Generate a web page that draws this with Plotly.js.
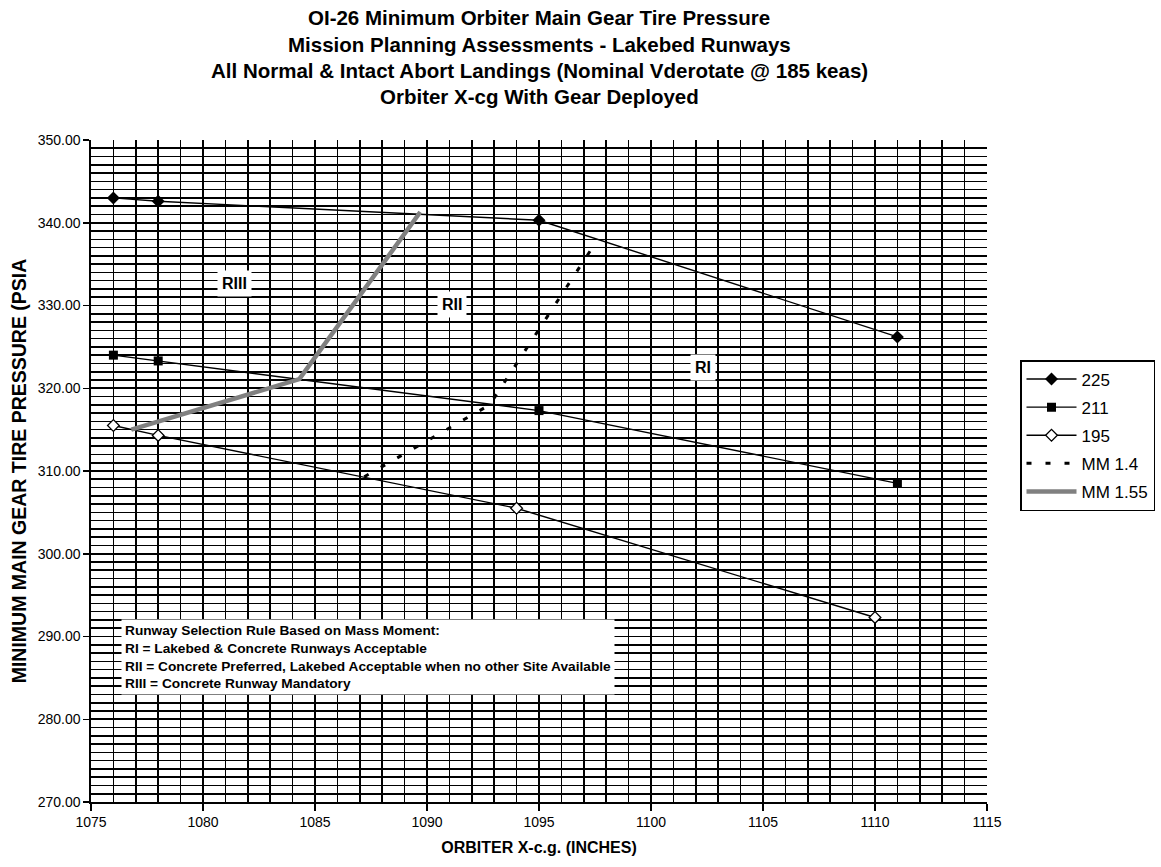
<!DOCTYPE html>
<html>
<head>
<meta charset="utf-8">
<script src="https://cdn.plot.ly/plotly-3.0.1.min.js"></script>
<style>html,body{margin:0;padding:0;background:#fff;}#chart{width:1161px;height:867px;}</style>
</head>
<body>
<div id="chart"></div>
<script>
// ---- data ----
const x225 = [1076, 1078, 1095, 1111];
const y225 = [343.0, 342.6, 340.3, 326.2];
const x211 = [1076, 1078, 1095, 1111];
const y211 = [324.0, 323.3, 317.3, 308.5];
const x195 = [1076, 1078, 1094, 1110];
const y195 = [315.5, 314.3, 305.5, 292.3];
const xMM14 = [1087.2, 1092.8, 1097.6];
const yMM14 = [309.3, 318.0, 337.9];
const xMM155 = [1076.8, 1084.3, 1089.7];
const yMM155 = [315.0, 321.1, 341.3];
const seriesNames = ["225", "211", "195", "MM 1.4", "MM 1.55"];
const regionLabels = ["RIII", "RII", "RI"];
const regionX = [1081.4, 1091.1, 1102.3];
const regionY = [332.7, 330.1, 322.5];
const ruleLines = [
  "Runway Selection Rule Based on Mass Moment:",
  "RI = Lakebed & Concrete Runways Acceptable",
  "RII = Concrete Preferred, Lakebed Acceptable when no other Site Available",
  "RIII = Concrete Runway Mandatory"
];
const titleLines = [
  "OI-26 Minimum Orbiter Main Gear Tire Pressure",
  "Mission Planning Assessments - Lakebed Runways",
  "All Normal & Intact Abort Landings (Nominal Vderotate @ 185 keas)",
  "Orbiter X-cg With Gear Deployed"
];

const FONT = "Liberation Sans, Arial, Helvetica, sans-serif";
const W = 1161, H = 867, PLOT_TOP = 140, PLOT_BOT = 802;
function paperY(py) { return (PLOT_BOT - py) / (PLOT_BOT - PLOT_TOP); }

const traces = [
  {x: x225, y: y225, name: seriesNames[0], mode: "lines+markers", legendgroup: "a",
   line: {color: "#000", width: 1.4}, marker: {symbol: "diamond", size: 10, color: "#000"}},
  {x: x211, y: y211, name: seriesNames[1], mode: "lines+markers", legendgroup: "b",
   line: {color: "#000", width: 1.4}, marker: {symbol: "square", size: 9, color: "#000"}},
  {x: x195, y: y195, name: seriesNames[2], mode: "lines+markers", legendgroup: "c",
   line: {color: "#000", width: 1.4}, marker: {symbol: "diamond", size: 9, color: "#fff", line: {color: "#000", width: 1.3}}},
  {x: xMM14, y: yMM14, name: seriesNames[3], mode: "lines", legendgroup: "d",
   line: {color: "#000", width: 3, dash: "5px,14px"}},
  {x: xMM155, y: yMM155, name: seriesNames[4], mode: "lines", legendgroup: "e",
   line: {color: "#808080", width: 4.5}}
];

const annotations = [];
const titleY = [17, 44, 71, 97];
for (let i = 0; i < titleLines.length; i++) {
  annotations.push({x: 0.5, xref: "paper", y: paperY(titleY[i]), yref: "paper", xanchor: "center", yanchor: "middle",
    text: "<b>" + titleLines[i] + "</b>", showarrow: false, font: {family: FONT, size: 20.5, color: "#000"}});
}
for (let i = 0; i < regionLabels.length; i++) {
  annotations.push({x: regionX[i], y: regionY[i], xref: "x", yref: "y", text: "<b>" + regionLabels[i] + "</b>",
    showarrow: false, bgcolor: "#fff", borderpad: 4, font: {family: FONT, size: 16, color: "#000"}});
}
annotations.push({x: 1076.34, y: 292.1, xref: "x", yref: "y", xanchor: "left", yanchor: "top",
  text: ruleLines.map(s => "<b>" + s + "</b>").join("<br>"), align: "left", showarrow: false,
  bgcolor: "#fff", borderpad: 3, font: {family: FONT, size: 13.7, color: "#000"}});
annotations.push({x: 1115.4, y: 332.8, xref: "x", yref: "y", xanchor: "left", yanchor: "middle",
  text: "<b>Weight (klbs)</b>", showarrow: false, font: {family: FONT, size: 15, color: "#000"}});

const layout = {
  width: W, height: H,
  paper_bgcolor: "#fff", plot_bgcolor: "#fff",
  margin: {l: 91, r: 174, t: PLOT_TOP, b: H - PLOT_BOT, pad: 0, autoexpand: false},
  font: {family: FONT, color: "#000"},
  showlegend: true,
  legend: {x: 1020 / W, xref: "container", y: 1 - 360 / H, yref: "container", xanchor: "left", yanchor: "top", bgcolor: "#fff",
    bordercolor: "#000", borderwidth: 1.5, font: {family: FONT, size: 17, color: "#000"},
    tracegroupgap: 3, itemwidth: 50},
  xaxis: {range: [1075, 1115], dtick: 5, tick0: 1075, showgrid: true, gridcolor: "#000", gridwidth: 1.6,
    minor: {dtick: 1, showgrid: true, gridcolor: "#000", gridwidth: 1.6},
    ticks: "outside", ticklen: 7, tickwidth: 1.5, tickcolor: "#000",
    showline: true, linecolor: "#000", linewidth: 1.6, zeroline: false,
    tickfont: {family: FONT, size: 14, color: "#000"},
    title: {text: "<b>ORBITER X-c.g. (INCHES)</b>", font: {family: FONT, size: 16, color: "#000"}, standoff: 12}},
  yaxis: {range: [270, 350], dtick: 10, tick0: 270, tickformat: ".2f", showgrid: true, gridcolor: "#000", gridwidth: 1.6,
    minor: {dtick: 1, showgrid: true, gridcolor: "#000", gridwidth: 1.6},
    ticks: "outside", ticklen: 6, tickwidth: 1.5, tickcolor: "#000",
    showline: true, linecolor: "#000", linewidth: 1.6, zeroline: false,
    tickfont: {family: FONT, size: 14, color: "#000"},
    title: {text: "<b>MINIMUM MAIN GEAR TIRE PRESSURE (PSIA</b>", font: {family: FONT, size: 19.5, color: "#000"}, standoff: 6}},
  annotations: annotations
};

Plotly.newPlot("chart", traces, layout, {staticPlot: true, displayModeBar: false});
</script>
</body>
</html>
